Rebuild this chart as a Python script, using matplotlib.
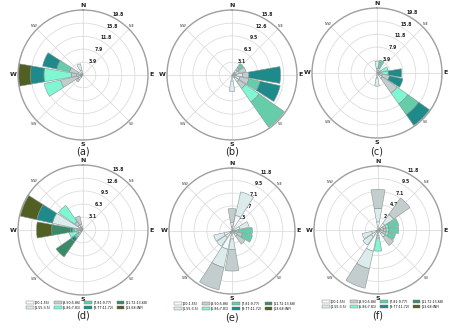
import numpy as np
import matplotlib.pyplot as plt
from matplotlib.patches import Patch

dirs = ['N', 'NNE', 'NE', 'ENE', 'E', 'ESE', 'SE', 'SSE',
        'S', 'SSW', 'SW', 'WSW', 'W', 'WNW', 'NW', 'NNW']
bins = ['[00:1.55)', '[1.55:3.5)', '[3.50:5.86)', '[5.86:7.81)',
        '[7.81:9.77)', '[9.77:11.72)', '[11.72:13.68)', '[13.68:INF)']
colors = ['#f5fafa', '#dcebeb', '#c3cdcd', '#7ff7d2',
          '#66cdaa', '#1f8a8a', '#3a8a68', '#515f22']

# cumulative frequency (%) at the top of each speed bin, per direction
a_dir = ['W', 'WNW', 'WSW', 'NNW', 'SW']
a_cum = [[0.8, 2.0, 3.6, 11.9, 11.9, 16.0, 16.0, 19.6],
         [0.6, 1.6, 4.2, 4.2, 8.2, 12.6],
         [0.6, 1.6, 7.0, 12.1],
         [1.5, 3.5],
         [0.8, 1.8, 2.6]]
a_ticks = [3.9, 7.9, 11.8, 15.8, 19.8]

b_dir = ['E', 'ESE', 'SE', 'NE', 'ENE', 'S']
b_cum = [[1.0, 2.5, 4.1, 4.1, 4.1, 11.8],
         [0.8, 2.0, 4.2, 4.2, 7.0, 12.0],
         [0.8, 2.0, 4.0, 8.0, 15.5],
         [0.8, 1.6, 2.2, 2.2, 3.4],
         [0.8, 1.8, 3.5],
         [1.5, 4.0]]
b_ticks = [3.1, 6.3, 9.5, 12.6, 15.8]

c_dir = ['SE', 'E', 'ESE', 'ENE', 'NNE', 'N', 'S']
c_cum = [[0.8, 2.0, 7.5, 11.5, 15.5, 19.5],
         [0.8, 0.8, 0.8, 3.4, 3.4, 7.5],
         [0.8, 1.6, 3.9, 3.9, 3.9, 8.1],
         [0.8, 1.2, 1.2, 3.5],
         [0.8, 1.5, 1.5, 1.5, 4.0],
         [1.5, 3.6],
         [1.5, 4.0]]
c_ticks = [3.9, 7.9, 11.8, 15.8, 19.8]

d_dir = ['WNW', 'W', 'NW', 'NNW', 'WSW', 'SW']
d_cum = [[1.0, 7.6, 7.6, 7.6, 7.6, 11.5, 11.5, 15.6],
         [0.5, 1.0, 1.5, 2.0, 2.5, 3.0, 7.6, 11.3],
         [0.8, 1.5, 2.5, 7.3],
         [0.8, 1.5, 3.5],
         [0.6, 1.2, 1.6, 3.4],
         [0.5, 1.0, 1.5, 2.0, 2.5, 3.5, 8.0]]
d_ticks = [3.1, 6.3, 9.5, 12.6, 15.8]

e_dir = ['NNE', 'N', 'ENE', 'E', 'ESE', 'SE', 'S', 'SSW', 'SW', 'WSW']
e_cum = [[3.0, 7.5],
         [0.8, 1.6, 4.2],
         [1.5, 3.3],
         [0.3, 0.6, 0.9, 1.2, 3.8],
         [0.5, 1.0, 2.0, 2.0, 3.9],
         [0.6, 1.2, 3.0],
         [1.5, 3.5, 7.5],
         [3.5, 7.0, 11.3],
         [1.5, 3.5],
         [1.5, 3.5]]
e_ticks = [2.3, 4.7, 7.1, 9.5, 11.8]

f_dir = ['N', 'NE', 'ENE', 'E', 'ESE', 'SE', 'S', 'SSW', 'SW', 'WSW']
f_cum = [[1.5, 4.0, 7.5],
         [1.5, 3.5, 7.2],
         [0.5, 1.0, 1.5, 2.0, 3.9],
         [0.5, 1.0, 1.5, 2.0, 3.8],
         [0.5, 1.0, 1.5, 2.0, 3.3],
         [0.8, 1.6, 3.5],
         [0.5, 1.0, 1.5, 3.9],
         [4.0, 7.3, 11.0],
         [1.5, 3.4],
         [1.2, 3.0]]
f_ticks = [2.3, 4.7, 7.1, 9.5, 11.8]

W, H = 450, 328
fig = plt.figure(figsize=(4.5, 3.28), dpi=100)


def rose(cx, cy, r, names, cums, ticks, tag, tag_y):
    ax = fig.add_axes([(cx - r) / W, 1 - (cy + r) / H, 2 * r / W, 2 * r / H],
                      projection='polar')
    ax.set_theta_zero_location('N')
    ax.set_theta_direction(-1)
    for name, cum in zip(names, cums):
        th = np.radians(dirs.index(name) * 22.5)
        base = 0
        for k, top in enumerate(cum):
            if top > base:
                ax.bar(th, top - base, width=np.radians(20), bottom=base,
                       color=colors[k], edgecolor='#8a9494', linewidth=0.4,
                       zorder=3)
            base = top
    ax.set_ylim(0, ticks[-1])
    ax.set_yticks(ticks)
    ax.set_yticklabels([f'{t:.1f}' for t in ticks], fontsize=3.3,
                       fontweight='bold', color='#222222')
    ax.set_rlabel_position(27)
    ax.set_xticks(np.radians(np.arange(0, 360, 45)))
    ax.set_xticklabels([])
    ax.grid(color='#dddddd', linewidth=0.6)
    ax.spines['polar'].set_color('#a0a0a0')
    ax.spines['polar'].set_linewidth(1.0)
    for lab, x, y in [('N', 0.5, 1.035), ('S', 0.5, -0.035),
                      ('W', -0.035, 0.5), ('E', 1.03, 0.5)]:
        ax.text(x, y, lab, transform=ax.transAxes, ha='center', va='center',
                fontsize=4.5, fontweight='bold', color='#222222')
    d = 0.53 * np.cos(np.radians(45))
    for lab, sx, sy in [('N-W', -1, 1), ('N-E', 1, 1),
                        ('S-W', -1, -1), ('S-E', 1, -1)]:
        ax.text(0.5 + sx * d, 0.5 + sy * d, lab, transform=ax.transAxes,
                ha='center', va='center', fontsize=2.3, color='#333333')
    fig.text(cx / W, 1 - tag_y / H, tag, ha='center', va='center',
             fontsize=7, color='#222222')
    return ax


rose(83, 75, 65, a_dir, a_cum, a_ticks, '(a)', 151)
rose(232, 75, 65, b_dir, b_cum, b_ticks, '(b)', 151)
rose(377, 73, 65, c_dir, c_cum, c_ticks, '(c)', 151)
rose(83, 230, 65, d_dir, d_cum, d_ticks, '(d)', 315)
rose(232, 231, 63, e_dir, e_cum, e_ticks, '(e)', 318)
rose(378, 230, 64, f_dir, f_cum, f_ticks, '(f)', 316)

handles = [Patch(facecolor=c, edgecolor='#777777', linewidth=0.3) for c in colors]
for lx, ly in [(87, 305), (235, 306), (383, 304)]:
    fig.legend(handles, bins, loc='center', bbox_to_anchor=(lx / W, 1 - ly / H),
               ncol=4, fontsize=2.3, frameon=False, handlelength=2.4,
               handleheight=0.9, columnspacing=0.9, handletextpad=0.4,
               labelspacing=0.3, borderpad=0)

fig.savefig('out.png', dpi=100)
